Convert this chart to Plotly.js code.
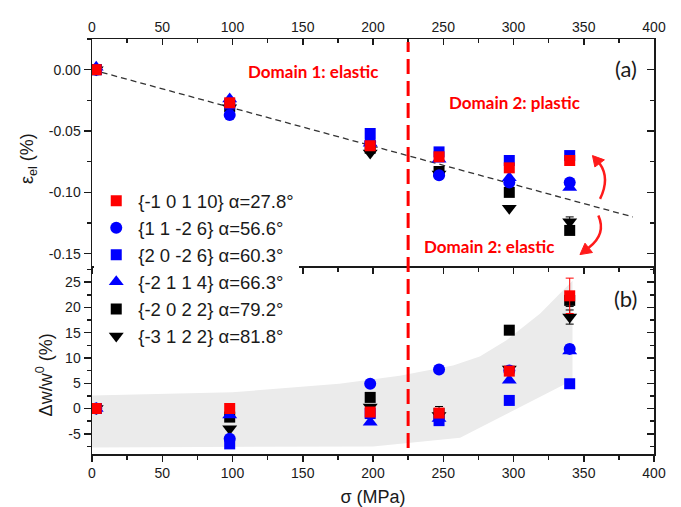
<!DOCTYPE html>
<html>
<head>
<meta charset="utf-8">
<script src="https://cdn.plot.ly/plotly-3.0.1.min.js"></script>
<style>html,body{margin:0;padding:0;background:#fff;}#chart{width:681px;height:507px;}</style>
</head>
<body>
<div id="chart"></div>
<script>
// ---- data ----
const sigma = [3, 98, 198, 247, 297, 340];
const seriesNames = [
  '{-1 0 1 10} α=27.8°',
  '{1 1 -2 6} α=56.6°',
  '{2 0 -2 6} α=60.3°',
  '{-2 1 1 4} α=66.3°',
  '{-2 0 2 2} α=79.2°',
  '{-3 1 2 2} α=81.8°'
];
// elastic strain (%) – panel (a)
const strainA = [0, -0.027, -0.062, -0.071, -0.080, -0.074];
const strainB = [0, -0.037, -0.059, -0.086, -0.092, -0.092];
const strainC = [0, -0.028, -0.052, -0.067, -0.074, -0.070];
const strainD = [0.002, -0.024, -0.060, -0.073, -0.088, -0.096];
const strainE = [0, -0.030, -0.064, -0.083, -0.100, -0.131];
const strainF = [0, -0.031, -0.068, -0.085, -0.113, -0.124];
const strainErrE = [0, 0, 0, 0, 0, 0.003];
const strainErrF = [0, 0, 0, 0, 0, 0.004];
// peak width change (%) – panel (b)
const widthA = [0, 0, -0.7, -0.9, 7.4, 22.3];
const widthB = [0, -6.0, 4.9, 7.7, 7.5, 11.8];
const widthC = [0, -7.0, -1.0, -2.4, 1.6, 4.9];
const widthD = [0, -1.3, -2.7, -2.0, 5.6, 11.4];
const widthE = [0, -1.7, 2.2, -1.0, 15.5, 21.4];
const widthF = [0, -4.0, 0.3, -1.4, 7.8, 18.1];
const widthErrA = [0, 0, 0, 0, 0.8, 3.5];
const widthErrB = [0, 0, 0, 0, 0, 0.8];
const widthErrE = [0, 0, 0, 0, 0, 1.2];
const widthErrF = [0, 0, 0, 1.8, 0.5, 1.4];
// linear elastic trend (dashed)
const fitSigma = [0, 385];
const fitStrain = [0, -0.12];
// grey scatter band in panel (b)
const bandSigma = [0, 100, 176, 219, 257, 276, 295, 319, 342, 342, 262, 200, 0];
const bandWidth = [2.6, 3.2, 4.9, 6.5, 8.5, 10.3, 13.5, 18.8, 25.3, 5.6, -5.8, -7.5, -7.7];
// yield stress separating domains
const domainLimit = [225];
// tick labels
const xTicks = [0, 50, 100, 150, 200, 250, 300, 350, 400];
const xTickText = ['0', '50', '100', '150', '200', '250', '300', '350', '400'];
const yTopTicks = [0, -0.05, -0.10, -0.15];
const yTopText = ['0.00', '-0.05', '-0.10', '-0.15'];
const yBotTicks = [-5, 0, 5, 10, 15, 20, 25];
const yBotText = ['-5', '0', '5', '10', '15', '20', '25'];

const strains = [strainA, strainB, strainC, strainD, strainE, strainF];
const strainErrs = [null, null, null, null, strainErrE, strainErrF];
const widths = [widthA, widthB, widthC, widthD, widthE, widthF];
const widthErrs = [widthErrA, widthErrB, null, null, widthErrE, widthErrF];

// ---- styles ----
const colors = ['#ff0000', '#0000ff', '#0000ff', '#0000ff', '#000000', '#000000'];
const symbols = ['square', 'circle', 'square', 'triangle-up', 'square', 'triangle-down'];
const sizes = [11, 12, 11, 13, 11, 13];

const FONT = '"Liberation Sans", Arial, sans-serif';
const AX = '#1a1a1a';
const RED = '#ff1a1a';

const traces = [];
traces.push({
  x: bandSigma, y: bandWidth, xaxis: 'x', yaxis: 'y', mode: 'lines',
  fill: 'toself', fillcolor: '#ebebeb', line: {width: 0, color: '#ebebeb'},
  showlegend: false, hoverinfo: 'skip'
});
traces.push({
  x: fitSigma, y: fitStrain, xaxis: 'x2', yaxis: 'y2', mode: 'lines',
  line: {color: '#333', width: 1.3, dash: '6px,4px'}, showlegend: false, hoverinfo: 'skip'
});
for (let i = seriesNames.length - 1; i >= 0; i--) {
  const mk = {symbol: symbols[i], size: sizes[i], color: colors[i], line: {width: 0}};
  const tTop = {
    x: sigma, y: strains[i], xaxis: 'x2', yaxis: 'y2', mode: 'markers',
    name: seriesNames[i], legendgroup: 'g' + i, marker: mk
  };
  if (strainErrs[i]) tTop.error_y = {type: 'data', array: strainErrs[i], color: colors[i], thickness: 1, width: 4};
  traces.push(tTop);
  const tBot = {
    x: sigma, y: widths[i], xaxis: 'x', yaxis: 'y', mode: 'markers',
    name: seriesNames[i], legendgroup: 'g' + i, showlegend: false, marker: mk
  };
  if (widthErrs[i]) tBot.error_y = {type: 'data', array: widthErrs[i], color: colors[i], thickness: 1, width: 4};
  traces.push(tBot);
}
// helper traces so that mirrored axes are drawn
traces.push({x: [null], y: [null], xaxis: 'x', yaxis: 'y3', showlegend: false, hoverinfo: 'skip'});
traces.push({x: [null], y: [null], xaxis: 'x3', yaxis: 'y2', showlegend: false, hoverinfo: 'skip'});
traces.push({x: [null], y: [null], xaxis: 'x2', yaxis: 'y4', showlegend: false, hoverinfo: 'skip'});

const split = 188 / 415;
function baseAxis(extra) {
  return Object.assign({
    showline: true, linecolor: AX, linewidth: 1.5, showgrid: false, zeroline: false,
    tickcolor: AX, tickwidth: 1.5, ticklen: 7,
    tickfont: {family: FONT, size: 14, color: AX}
  }, extra);
}
const xCommon = {range: [0, 400], tickmode: 'array', tickvals: xTicks, ticktext: xTickText,
  minor: {tickmode: 'linear', tick0: 0, dtick: 25, ticklen: 4, tickwidth: 1.5, tickcolor: AX, showgrid: false}};
const yBotCommon = {range: [-9, 28.2], tickmode: 'array', tickvals: yBotTicks, ticktext: yBotText,
  minor: {tickmode: 'linear', tick0: 0, dtick: 2.5, ticklen: 4, tickwidth: 1.5, tickcolor: AX, showgrid: false}};
const yTopCommon = {range: [-0.16, 0.025], tickmode: 'array', tickvals: yTopTicks, ticktext: yTopText,
  minor: {tickmode: 'linear', tick0: 0, dtick: 0.025, ticklen: 4, tickwidth: 1.5, tickcolor: AX, showgrid: false}};

function withMinorTicks(common, dir) {
  const c = JSON.parse(JSON.stringify(common));
  c.ticks = dir; c.minor.ticks = dir;
  return c;
}
const domFont = {family: 'Lato, sans-serif', size: 17, color: '#ff0000', weight: 'bold'};

const layout = {
  width: 681, height: 507,
  margin: {l: 92, r: 27, t: 39, b: 53},
  paper_bgcolor: '#fff', plot_bgcolor: 'rgba(0,0,0,0)',
  font: {family: FONT, color: AX},
  showlegend: true,
  legend: {
    x: 0.004, xanchor: 'left', y: 0.655, yanchor: 'top',
    bgcolor: '#ffffff', borderwidth: 0, traceorder: 'reversed', itemwidth: 34,
    font: {family: FONT, size: 18.5, color: AX}
  },
  xaxis: baseAxis(Object.assign(withMinorTicks(xCommon, 'outside'), {
    domain: [0, 1], anchor: 'y', side: 'bottom', ticklen: 6,
    title: {text: 'σ (MPa)', font: {family: FONT, size: 18, color: AX}, standoff: 15}
  })),
  xaxis2: baseAxis(Object.assign(withMinorTicks(xCommon, 'outside'), {
    domain: [0, 1], anchor: 'y2', side: 'bottom', ticklen: 6, showticklabels: false
  })),
  xaxis3: baseAxis(Object.assign(withMinorTicks(xCommon, 'inside'), {
    overlaying: 'x2', anchor: 'y2', side: 'top', ticklen: 6
  })),
  yaxis: baseAxis(Object.assign(withMinorTicks(yBotCommon, 'outside'), {
    domain: [0, split], anchor: 'x', side: 'left'
  })),
  yaxis3: baseAxis(Object.assign(withMinorTicks(yBotCommon, 'inside'), {
    overlaying: 'y', anchor: 'x', side: 'right', showticklabels: false
  })),
  yaxis2: baseAxis(Object.assign(withMinorTicks(yTopCommon, 'outside'), {
    domain: [split, 1], anchor: 'x2', side: 'left'
  })),
  yaxis4: baseAxis(Object.assign(withMinorTicks(yTopCommon, 'inside'), {
    overlaying: 'y2', anchor: 'x2', side: 'right', showticklabels: false
  })),
  shapes: [
    {type: 'line', xref: 'x', yref: 'paper', x0: domainLimit[0], x1: domainLimit[0], y0: 0.0145, y1: 0.993,
     line: {color: '#ff0000', width: 3, dash: '15px,7px'}},
    // curved double arrow (upper branch)
    {type: 'path', xref: 'x2', yref: 'y2', path: 'M 361.6,-0.1053 Q 368.8,-0.0884 361.3,-0.0764',
     line: {color: RED, width: 2.5}},
    {type: 'path', xref: 'x2', yref: 'y2', path: 'M 356.2,-0.0700 L 364.7,-0.0735 L 357.9,-0.0793 Z',
     fillcolor: RED, line: {color: RED, width: 1}},
    // lower branch
    {type: 'path', xref: 'x2', yref: 'y2', path: 'M 360.4,-0.1189 Q 366.25,-0.1340 353.5,-0.1452',
     line: {color: RED, width: 2.5}},
    {type: 'path', xref: 'x2', yref: 'y2', path: 'M 347.3,-0.1507 L 356.2,-0.1490 L 350.9,-0.1414 Z',
     fillcolor: RED, line: {color: RED, width: 1}}
  ],
  annotations: [
    {xref: 'paper', yref: 'paper', x: -0.114, y: 0.713, xanchor: 'center', yanchor: 'middle',
     textangle: -90, showarrow: false,
     text: 'ε<sub>el</sub> (%)', font: {family: FONT, size: 18, color: AX}},
    {xref: 'paper', yref: 'paper', x: -0.085, y: 0.19, xanchor: 'center', yanchor: 'middle',
     textangle: -90, showarrow: false,
     text: 'Δw/w<sup>0</sup> (%)', font: {family: FONT, size: 18, color: AX}},
    {xref: 'x2', yref: 'y2', x: 157, y: -0.0016, showarrow: false, text: 'Domain 1: elastic', font: domFont},
    {xref: 'x2', yref: 'y2', x: 300.5, y: -0.0269, showarrow: false, text: 'Domain 2: plastic', font: domFont},
    {xref: 'x2', yref: 'y2', x: 282.6, y: -0.1443, showarrow: false, text: 'Domain 2: elastic', font: domFont},
    {xref: 'x2', yref: 'y2', x: 379.8, y: 0.0006, showarrow: false, text: '(a)',
     font: {family: 'Lato, sans-serif', size: 22, color: AX}},
    {xref: 'x', yref: 'y', x: 379.4, y: 21.8, showarrow: false, text: '(b)',
     font: {family: 'Lato, sans-serif', size: 22, color: AX}}
  ]
};

Plotly.newPlot('chart', traces, layout, {displayModeBar: false, staticPlot: true});
</script>
</body>
</html>
